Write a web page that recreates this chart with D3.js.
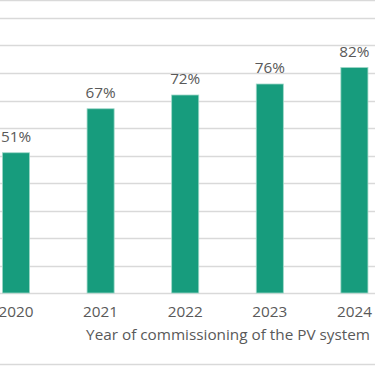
<!DOCTYPE html>
<html><head><meta charset="utf-8">
<script src="https://cdn.jsdelivr.net/npm/d3@7"></script>
<style>
html,body{margin:0;padding:0;background:#fff;}
svg{display:block;}
text{font-family:"Open Sans","Noto Sans",sans-serif;fill:#595959;}
</style></head>
<body>
<svg id="chart" width="375" height="366"></svg>
<script>
const years = ["2020","2021","2022","2023","2024"];
const shares = [0.51, 0.67, 0.72, 0.76, 0.82];
const gridTicks = [0,0.1,0.2,0.3,0.4,0.5,0.6,0.7,0.8,0.9,1.0];
const axisTitle = "Year of commissioning of the PV system";

const svg = d3.select("#chart");
const W = 375, H = 366;
const FS = "15.3px";

const x = d3.scaleBand().domain(years).range([-26.3, 396.7]).paddingInner(0.68).paddingOuter(0.34);
const y = d3.scaleLinear().domain([0,1]).range([293,18]);

// border lines
svg.append("line").attr("x1",0).attr("x2",W).attr("y1",0.5).attr("y2",0.5).attr("stroke","#d9d9d9").attr("stroke-width",1.5);
svg.append("line").attr("x1",0).attr("x2",W).attr("y1",364.5).attr("y2",364.5).attr("stroke","#d9d9d9").attr("stroke-width",1.5);

// gridlines
svg.append("g").selectAll("line").data(gridTicks).join("line")
  .attr("x1",0).attr("x2",W)
  .attr("y1",d=>Math.round(y(d))+0.5).attr("y2",d=>Math.round(y(d))+0.5)
  .attr("stroke","#d9d9d9").attr("stroke-width",1.3);

// bars
svg.append("g").selectAll("rect").data(years).join("rect")
  .attr("x",(d)=>x(d)).attr("width",x.bandwidth())
  .attr("y",(d,i)=>y(shares[i])).attr("height",(d,i)=>y(0)-y(shares[i]))
  .attr("fill","#179c7d").attr("stroke","#9fd8c8").attr("stroke-width",0.8);

// value labels
svg.append("g").selectAll("text").data(years).join("text")
  .attr("x",d=>x(d)+x.bandwidth()/2).attr("y",(d,i)=>y(shares[i])-11)
  .attr("text-anchor","middle").style("font-size",FS)
  .text((d,i)=>Math.round(shares[i]*100)+"%");

// x axis labels
const xAxis = d3.axisBottom(x).tickSize(0).tickPadding(0);
const gx = svg.append("g").attr("transform","translate(0,306)").call(xAxis);
gx.select(".domain").remove();
gx.selectAll("text").style("font-size",FS).style("font-family",'"Open Sans","Noto Sans",sans-serif').attr("fill","#595959").attr("dy","0.71em");

// axis title
svg.append("text").attr("x",370).attr("y",340).attr("text-anchor","end")
  .style("font-size",FS).text(axisTitle);
</script>
</body></html>
